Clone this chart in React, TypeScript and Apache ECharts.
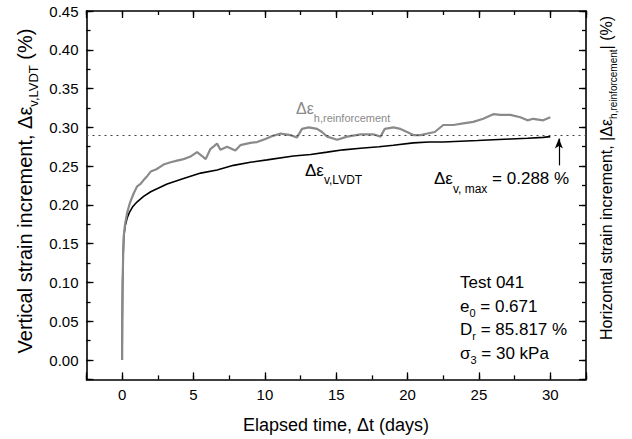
import React, { useEffect, useRef } from "react";
import * as echarts from "echarts";

// Vertical strain increment (LVDT), % vs elapsed time (days)
const lvdtDays = [0, 0.01, 0.03, 0.07, 0.11, 0.2, 0.35, 0.5, 0.75, 1.05, 1.5, 2.0, 2.7, 3.15, 4.3, 5.5, 6.65, 7.8, 8.98, 10.15, 12, 13.2, 14.36, 15.5, 16.7, 18, 19, 20.4, 21.5, 22.5, 23.7, 24.9, 26, 27.2, 28.4, 29.5, 30];
const lvdtStrain = [0, 0.05, 0.1, 0.135, 0.158, 0.172, 0.183, 0.19, 0.198, 0.204, 0.211, 0.217, 0.223, 0.227, 0.234, 0.241, 0.245, 0.251, 0.255, 0.258, 0.263, 0.265, 0.268, 0.271, 0.273, 0.275, 0.277, 0.28, 0.281, 0.281, 0.282, 0.283, 0.284, 0.285, 0.286, 0.287, 0.288];

// Horizontal strain increment (reinforcement), % vs elapsed time (days)
const reinfDays = [0, 0.01, 0.03, 0.07, 0.11, 0.2, 0.35, 0.55, 0.81, 1.05, 1.28, 1.5, 1.75, 2.0, 2.4, 2.9, 3.4, 3.85, 4.3, 4.75, 5.25, 5.6, 5.85, 6.18, 6.65, 6.88, 7.35, 7.93, 8.28, 8.98, 9.45, 10.04, 10.4, 11.1, 11.8, 12.25, 12.6, 13.07, 13.66, 14.0, 14.36, 15.06, 15.76, 16.7, 17.6, 18.1, 18.4, 19.0, 19.5, 19.96, 20.4, 20.9, 21.4, 21.9, 22.5, 23.2, 23.9, 24.6, 25.3, 26.0, 26.5, 27.2, 27.9, 28.4, 28.8, 29.5, 30.0];
const reinfStrain = [0, 0.05, 0.1, 0.135, 0.16, 0.175, 0.19, 0.203, 0.215, 0.224, 0.227, 0.232, 0.237, 0.243, 0.246, 0.252, 0.255, 0.257, 0.259, 0.262, 0.268, 0.263, 0.259, 0.272, 0.279, 0.271, 0.275, 0.27, 0.277, 0.28, 0.281, 0.285, 0.288, 0.292, 0.29, 0.287, 0.298, 0.3, 0.298, 0.294, 0.288, 0.284, 0.288, 0.291, 0.291, 0.288, 0.298, 0.3, 0.298, 0.294, 0.29, 0.29, 0.292, 0.294, 0.303, 0.303, 0.305, 0.307, 0.311, 0.317, 0.316, 0.316, 0.313, 0.309, 0.311, 0.309, 0.313];

const vMax = 0.288;
const arrowDay = 30.6;
const arrowFrom = 0.251;
const arrowTo = 0.2855;

const xRange = [-2.5, 32.5];
const yRange = [-0.025, 0.45];

const testInfo = ["Test 041", "0.671", "85.817 %", "30 kPa"];

const FONT = '"Liberation Sans", Arial, Helvetica, sans-serif';

function zip(a: number[], b: number[]) {
  return a.map((v, i) => [v, b[i]]);
}

function richText(
  x: number,
  y: number,
  text: string,
  m: number,
  s: number,
  pad: number,
  color: string,
  extra: any = {}
) {
  return {
    type: "text",
    x,
    y,
    silent: true,
    ...extra,
    style: {
      text,
      fontFamily: FONT,
      fontSize: m,
      fill: color,
      align: extra.align || "left",
      verticalAlign: "middle",
      rich: {
        m: { fontFamily: FONT, fontSize: m, fill: color, color },
        s: { fontFamily: FONT, fontSize: s, fill: color, color, padding: [pad, 0, 0, 0] },
      },
    },
  };
}

export default function App() {
  const ref = useRef<HTMLDivElement>(null);

  useEffect(() => {
    if (!ref.current) return;
    const chart = echarts.init(ref.current, undefined, { renderer: "svg" });

    const axisLineStyle = { color: "#000", width: 1.6 };
    const tickStyle = { color: "#000", width: 1.3 };

    const xMain = (pos: string, labels: boolean) => ({
      type: "value",
      position: pos,
      min: xRange[0],
      max: xRange[1],
      splitNumber: 7,
      axisLine: { show: true, onZero: false, lineStyle: axisLineStyle },
      axisTick: { show: true, inside: true, length: 7, lineStyle: tickStyle },
      axisLabel: {
        show: labels,
        margin: 8,
        fontSize: 15,
        color: "#000",
        fontFamily: FONT,
        formatter: (v: number) => (Math.abs(v % 5) < 1e-6 ? String(Math.round(v)) : ""),
      },
      splitLine: { show: false },
    });
    const xMinor = (pos: string) => ({
      type: "value",
      position: pos,
      min: xRange[0],
      max: xRange[1],
      interval: 2.5,
      axisLine: { show: false, onZero: false },
      axisTick: { show: true, inside: true, length: 4, lineStyle: tickStyle },
      axisLabel: { show: false },
      splitLine: { show: false },
    });
    const yMain = (pos: string, labels: boolean) => ({
      type: "value",
      position: pos,
      min: yRange[0],
      max: yRange[1],
      splitNumber: 9,
      axisLine: { show: true, onZero: false, lineStyle: axisLineStyle },
      axisTick: { show: true, inside: true, length: 7, lineStyle: tickStyle },
      axisLabel: {
        show: labels,
        margin: 8,
        fontSize: 15,
        color: "#000",
        fontFamily: FONT,
        formatter: (v: number) => (v < -1e-9 ? "" : v.toFixed(2)),
      },
      splitLine: { show: false },
    });
    const yMinor = (pos: string) => ({
      type: "value",
      position: pos,
      min: yRange[0],
      max: yRange[1],
      interval: 0.025,
      axisLine: { show: false, onZero: false },
      axisTick: { show: true, inside: true, length: 4, lineStyle: tickStyle },
      axisLabel: { show: false },
      splitLine: { show: false },
    });

    const option: any = {
      animation: false,
      backgroundColor: "#fff",
      textStyle: { fontFamily: FONT },
      grid: { left: 86.5, right: 46, top: 11, bottom: 59.6, containLabel: false, outerBoundsMode: "none" },
      xAxis: [xMain("bottom", true), xMinor("bottom"), xMain("top", false), xMinor("top")],
      yAxis: [yMain("left", true), yMinor("left"), yMain("right", false), yMinor("right")],
      series: [
        {
          type: "line",
          name: "lvdt",
          xAxisIndex: 0,
          yAxisIndex: 0,
          data: zip(lvdtDays, lvdtStrain),
          symbol: "none",
          showSymbol: false,
          smooth: false,
          lineStyle: { color: "#000", width: 1.6 },
          z: 3,
          markLine: {
            silent: true,
            symbol: ["none", "none"],
            label: { show: false },
            emphasis: { disabled: true },
            data: [
              {
                yAxis: vMax,
                symbol: "none",
                lineStyle: { color: "#444", width: 1.2, type: [2, 4] },
              },
              [
                {
                  coord: [arrowDay, arrowFrom],
                  symbol: "none",
                  lineStyle: { color: "#000", width: 1.2, type: "solid" },
                },
                { coord: [arrowDay, arrowTo], symbol: "arrow", symbolSize: [6, 10] },
              ],
            ],
          },
        },
        {
          type: "line",
          name: "reinforcement",
          xAxisIndex: 0,
          yAxisIndex: 0,
          data: zip(reinfDays, reinfStrain),
          symbol: "none",
          showSymbol: false,
          lineStyle: { color: "#8a8a8a", width: 2.2 },
          z: 4,
        },
      ],
      graphic: [
        richText(
          25,
          191,
          "{m|Vertical strain increment, Δε}{s|v,LVDT}{m| (%)}",
          20,
          13,
          16,
          "#000",
          { rotation: Math.PI / 2, align: "center" }
        ),
        richText(
          606,
          178,
          "{m|Horizontal strain increment, |Δε}{s|h,reinforcement}{m|| (%)}",
          16,
          10,
          14,
          "#000",
          { rotation: Math.PI / 2, align: "center" }
        ),
        richText(336, 425, "{m|Elapsed time, Δt (days)}", 18, 12, 0, "#000", { align: "center" }),
        richText(296, 108, "{m|Δε}{s|h,reinforcement}", 16, 11, 19, "#8a8a8a"),
        richText(305, 170, "{m|Δε}{s|v,LVDT}", 17, 12, 19, "#000"),
        richText(434, 178, `{m|Δε}{s|v, max}{m| = ${vMax.toFixed(3)} %}`, 17, 12, 21, "#000"),
        richText(460, 282, `{m|${testInfo[0]}}`, 17, 11, 13, "#000"),
        richText(460, 306, `{m|e}{s|0}{m| = ${testInfo[1]}}`, 17, 11, 13, "#000"),
        richText(460, 329, `{m|D}{s|r}{m| = ${testInfo[2]}}`, 17, 11, 13, "#000"),
        richText(460, 353, `{m|σ}{s|3}{m| = ${testInfo[3]}}`, 17, 11, 13, "#000"),
      ],
    };

    chart.setOption(option);
    return () => chart.dispose();
  }, []);

  return (
    <div
      ref={ref}
      style={{ position: "fixed", left: 0, top: 0, width: 632, height: 439, background: "#fff" }}
    />
  );
}
